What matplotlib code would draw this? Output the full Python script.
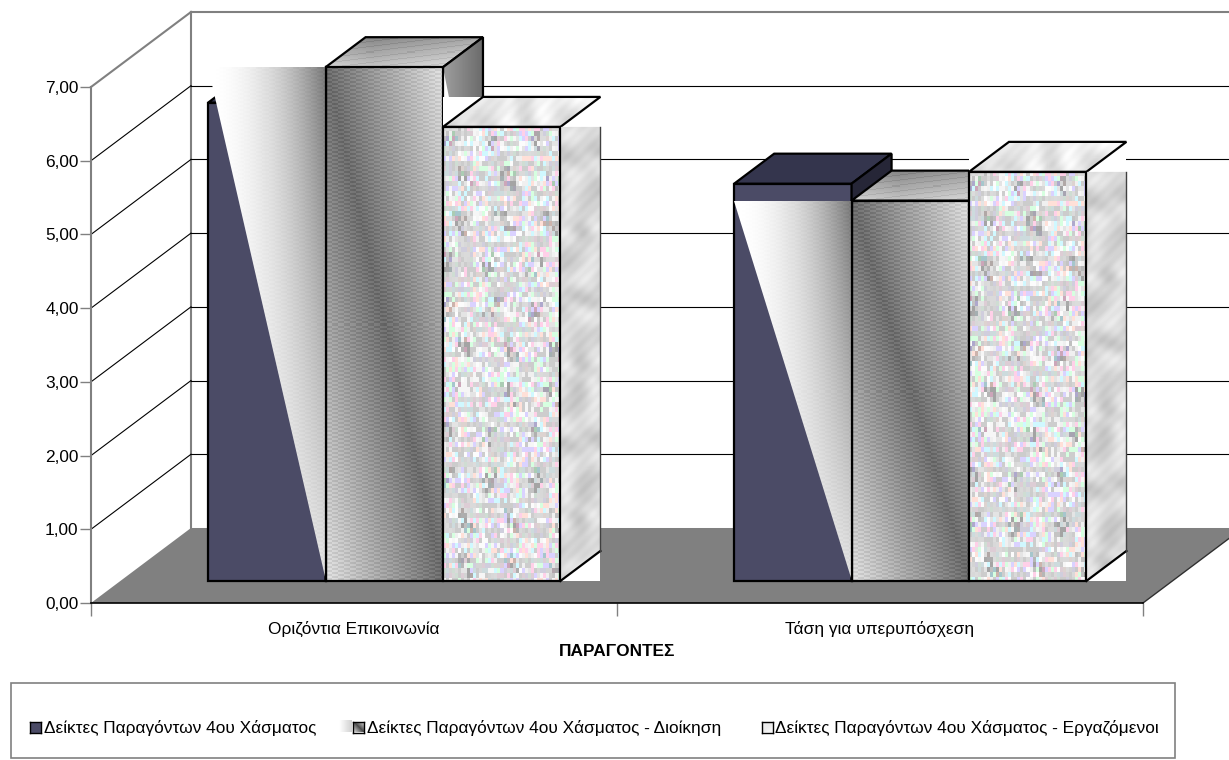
import numpy as np
import matplotlib
matplotlib.use('Agg')
import matplotlib.pyplot as plt
from matplotlib.patches import Polygon, Rectangle
from matplotlib.ticker import FuncFormatter

plt.rcParams['font.family'] = ['Liberation Sans', 'DejaVu Sans']

# ---------------------------- Daten ----------------------------
categories = ['Οριζόντια Επικοινωνία', 'Τάση για υπερυπόσχεση']
series_names = ['Δείκτες Παραγόντων 4ου Χάσματος',
                'Δείκτες Παραγόντων 4ου Χάσματος - Διοίκηση',
                'Δείκτες Παραγόντων 4ου Χάσματος - Εργαζόμενοι']
total = [6.49, 5.39]
management = [6.97, 5.16]
employees = [6.16, 5.55]
y_ticks = [0, 1, 2, 3, 4, 5, 6, 7]

# ------------------------- 3D-Geometrie -------------------------
W, H = 1229, 760
PX_X = 526.0     # Pixel pro Kategorie
PX_Y = 73.7      # Pixel pro Werteinheit
FLOOR_DX = 100 / PX_X
FLOOR_DY = 75 / PX_Y
D0, D1 = 22 / 75, 52 / 75     # Tiefe der Balken (Anteil der Bodentiefe)
BAR_W = 117.4 / PX_X
BAR_START = 0.167


def proj(x, y, d=0.0):
    return x + d * FLOOR_DX, y + d * FLOOR_DY


# ------------------------- Texturen -------------------------
def hash2(i, j, s=0.0):
    v = np.sin(i * 12.9898 + j * 78.233 + s) * 43758.5453
    return v - np.floor(v)


def oblique_gray(w, h, lo=0.42, hi=0.86, pattern=True):
    # dunkles Band laeuft diagonal von oben links nach unten rechts
    jj, ii = np.meshgrid(np.linspace(0, 1, w), np.linspace(0, 1, h))
    g = lo + (hi - lo) * np.abs(jj - ii)
    if pattern:
        r, c = np.indices((h, w))
        g = g + 0.07 * (((r + (c // 6) * 2) % 4) < 2) - 0.035
    return np.clip(g, 0, 1)


def fade_gray(w, h):
    # weiss links, grau rechts, nach unten heller
    jj, ii = np.meshgrid(np.linspace(0, 1, w), np.linspace(0, 1, h))
    g = 1.0 - 0.52 * jj ** 2.0 * (1 - 0.8 * ii)
    r, c = np.indices((h, w))
    g = g - 0.025 * (((r + (c // 6) * 2) % 4) < 2) * jj
    return np.clip(g, 0, 1)


def speckle(w, h):
    pal = np.array([[240, 240, 240], [205, 205, 205], [252, 252, 252], [255, 208, 232],
                    [214, 255, 224], [208, 248, 255], [218, 210, 255], [255, 224, 216],
                    [246, 246, 246], [205, 205, 205], [228, 228, 228]]) / 255.0
    ch, cw = h // 5 + 1, w // 3 + 1
    jj, ii = np.meshgrid(np.arange(cw), np.arange(ch))
    idx = (hash2(ii * 1.0, jj * 1.0) * len(pal)).astype(int)
    img = pal[idx % len(pal)]
    # waagerechte graue Stuecke
    runs = hash2(ii * 1.0, (jj // 5) * 1.0, 2.3) > 0.72
    img[runs] = img[runs] * 0.35 + 0.65 * np.array([0.8, 0.8, 0.8])
    # grosse dunklere Wolken
    cloud = np.sin(ii * 0.37 + 0.9) * np.sin(jj * 0.43 + 2.0 * np.sin(ii * 0.19))
    pick = (cloud > 0.55) & (hash2(ii * 1.0, jj * 1.0, 5.1) > 0.55)
    img[pick] = img[pick] * 0.8
    return np.repeat(np.repeat(img, 5, axis=0), 3, axis=1)[:h, :w]


def marble(w, h, base=0.88):
    jj, ii = np.meshgrid(np.arange(w, dtype=float), np.arange(h, dtype=float))
    s = (np.sin((jj + ii * 0.8) * 0.11 + 2.0 * np.sin(ii * 0.043 - jj * 0.05))
         + 0.6 * np.sin((jj * 0.7 - ii * 0.5) * 0.21 + 1.5 * np.sin(ii * 0.09))
         + 0.3 * np.sin((jj + ii) * 0.47))
    return np.clip(base + 0.045 * s, 0, 1)


# ------------------------- Figur -------------------------
fig = plt.figure(figsize=(W / 100, H / 100), dpi=100, facecolor='white')
ax = fig.add_axes([91 / W, (H - 603) / H, 1052 / W, 516 / H])
ax.patch.set_visible(False)


def paste(img, x0, x1, y0, y1, clip=None, z=2, cmap='gray'):
    im = ax.imshow(img, extent=(x0, x1, y0, y1), origin='upper', aspect='auto', cmap=cmap,
                   vmin=0, vmax=1, interpolation='nearest', zorder=z)
    # Bilder ragen ueber die Achsen hinaus, also auf die ganze Figur begrenzen
    im.set_clip_box(fig.bbox)
    if clip is not None:
        im.set_clip_path(Polygon(clip, closed=True, transform=ax.transData))
        im.set_clip_box(fig.bbox)
    else:
        im.set_clip_path(None)
    return im


def poly(pts, fc='none', ec='none', lw=0, z=2):
    p = Polygon(pts, closed=True, facecolor=fc, edgecolor=ec, linewidth=lw, zorder=z,
                clip_on=False, joinstyle='miter')
    ax.add_patch(p)
    return p


# Boden und Waende
poly([proj(0, 0), proj(2, 0), proj(2, 0, 1), proj(0, 0, 1)], fc='#808080', z=1)
ax.plot(*zip(proj(2, 0), proj(2, 0, 1)), color='#303030', lw=1, clip_on=False, zorder=1.1)
ax.plot(*zip(proj(0, 0, 1), proj(0, 7, 1)), color='#808080', lw=1.5, clip_on=False, zorder=1)
ax.plot(*zip(proj(0, 7), proj(0, 7, 1)), color='#808080', lw=1.5, clip_on=False, zorder=1)
ax.plot(*zip(proj(0, 7, 1), proj(2, 7, 1)), color='#808080', lw=1.5, clip_on=False, zorder=1)
for t in y_ticks[1:-1]:
    ax.plot(*zip(proj(0, t), proj(0, t, 1)), color='black', lw=0.8, clip_on=False, zorder=1)
    ax.plot(*zip(proj(0, t, 1), proj(2, t, 1)), color='black', lw=0.8, clip_on=False, zorder=1)

base = D0 * FLOOR_DY
z = 3.0
LW = 1.6

for k in range(len(categories)):
    x_a = k + BAR_START + D0 * FLOOR_DX
    x_b = x_a + BAR_W
    x_c = x_b + BAR_W
    x_d = x_c + BAR_W
    dd = D1 - D0
    ddx, ddy = dd * FLOOR_DX, dd * FLOOR_DY
    v1, v2, v3 = total[k] + base, management[k] + base, employees[k] + base

    # Reihe 1: dunkelblau
    poly([(x_a, base), (x_b, base), (x_b, v1), (x_a, v1)], fc='#4b4b66', ec='black', lw=LW, z=z)
    poly([(x_a, v1), (x_b, v1), (x_b + ddx, v1 + ddy), (x_a + ddx, v1 + ddy)], fc='#34354d', ec='black', lw=LW, z=z + 0.1)
    poly([(x_b, v1), (x_b + ddx, v1 + ddy), (x_b + ddx, base + ddy), (x_b, base)], fc='#262637', ec='black', lw=LW, z=z + 0.2)

    # Reihe 2: Grauverlauf
    top_pts = [(x_b, v2), (x_c, v2), (x_c + ddx, v2 + ddy), (x_b + ddx, v2 + ddy)]
    jj, ii = np.meshgrid(np.linspace(0, 1, 157), np.linspace(0, 1, 30))
    g_top = 0.52 + 0.25 * ii + 0.18 * np.abs(jj - 0.3) - 0.06 * (((np.arange(30)[:, None] + np.arange(157)[None, :] // 8) % 5) == 0)
    paste(np.clip(g_top, 0, 1), x_b, x_c + ddx, v2, v2 + ddy, clip=top_pts, z=z + 0.3)
    poly(top_pts, ec='black', lw=LW, z=z + 0.31)
    side_pts = [(x_c, v2), (x_c + ddx, v2 + ddy), (x_c + ddx, base + ddy), (x_c, base)]
    paste(np.tile(np.linspace(0.62, 0.42, 40), (60, 1)), x_c, x_c + ddx, v2 - 30 / PX_Y, v2 + ddy, clip=side_pts, z=z + 0.4)
    poly(side_pts, ec='black', lw=LW, z=z + 0.41)
    # heller Keil auf der Seitenflaeche
    poly([(x_c, v2), (x_c + 0.15 * ddx, v2 - 30 / PX_Y), (x_c, v2 - 30 / PX_Y)], fc='white', z=z + 0.42)
    h_px = int((v2 - base) * PX_Y)
    paste(oblique_gray(117, h_px), x_b, x_c, base, v2, z=z + 0.5)
    poly([(x_b, base), (x_c, base), (x_c, v2), (x_b, v2)], ec='black', lw=LW, z=z + 0.51)

    # Dreieck ueber Reihe 1, gleiche Hoehe wie Reihe 2
    tri = [(x_a, v2), (x_b, v2), (x_b, base)]
    paste(fade_gray(117, h_px), x_a, x_b, base, v2, clip=tri, z=z + 0.6)
    ax.plot([x_b, x_b], [base, v2], color='black', lw=LW, zorder=z + 0.61, clip_on=False)

    # Reihe 3: Marmor / bunte Textur mit weissem Hintergrund
    poly([(x_c, v3), (x_d + ddx, v3), (x_d + ddx, v3 + ddy), (x_c, v3 + ddy)], fc='white', z=z + 0.7)
    top3 = [(x_c, v3), (x_d, v3), (x_d + ddx, v3 + ddy), (x_c + ddx, v3 + ddy)]
    paste(marble(157, 30, base=0.91), x_c, x_d + ddx, v3, v3 + ddy, clip=top3, z=z + 0.71)
    poly(top3, ec='black', lw=LW, z=z + 0.72)
    poly([(x_d, base), (x_d + ddx, base), (x_d + ddx, v3), (x_d, v3)], fc='white', z=z + 0.73)
    h3 = int((v3 - base) * PX_Y)
    side3 = [(x_d, v3), (x_d + ddx, v3), (x_d + ddx, base + ddy), (x_d, base)]
    paste(marble(40, h3, base=0.84), x_d, x_d + ddx, base, v3, clip=side3, z=z + 0.74)
    ax.plot([x_d, x_d + ddx], [base, base + ddy], color='black', lw=LW, zorder=z + 0.75, clip_on=False)
    ax.plot([x_d + ddx, x_d + ddx], [base + ddy, v3], color='#404040', lw=1, zorder=z + 0.75, clip_on=False)
    paste(speckle(117, h3), x_c, x_d, base, v3, z=z + 0.8)
    poly([(x_c, base), (x_d, base), (x_d, v3), (x_c, v3)], ec='black', lw=LW, z=z + 0.81)

# ------------------------- Achsen -------------------------
ax.set_xlim(0, 2)
ax.set_ylim(0, 7)
ax.spines['top'].set_visible(False)
ax.spines['right'].set_visible(False)
ax.spines['left'].set_color('#808080')
ax.spines['left'].set_linewidth(1.5)
ax.spines['bottom'].set_color('black')
ax.spines['bottom'].set_linewidth(1.2)
ax.spines['bottom'].set_zorder(2.5)
ax.set_yticks(y_ticks)
ax.yaxis.set_major_formatter(FuncFormatter(lambda v, p: f'{v:.2f}'.replace('.', ',')))
ax.tick_params(axis='y', length=8, width=1, color='#808080', labelsize=12.4, pad=1)
ax.set_xticks([0, 1, 2], minor=True)
ax.set_xticks([0.5, 1.5])
ax.set_xticklabels(categories, fontsize=12.4)
ax.tick_params(axis='x', which='major', length=0, pad=13)
ax.tick_params(axis='x', which='minor', length=9, width=1, color='#808080')
fig.text(617 / W, 1 - 652 / H, 'ΠΑΡΑΓΟΝΤΕΣ', ha='center', va='center', fontsize=12.4, fontweight='bold')

# ------------------------- Legende -------------------------
fig.add_artist(Rectangle((11 / W, 1 - 758 / H), 1164 / W, 75 / H, transform=fig.transFigure,
                         facecolor='white', edgecolor='#808080', linewidth=1.2, zorder=-1))


def swatch(x, y, size, img=None, fc=None):
    a = fig.add_axes([x / W, 1 - (y + size / 2) / H, size / W, size / H], zorder=5)
    a.set_xticks([])
    a.set_yticks([])
    if img is not None:
        a.imshow(img, cmap='gray', vmin=0, vmax=1, aspect='auto', interpolation='bilinear')
    if fc is not None:
        a.set_facecolor(fc)
    for s in a.spines.values():
        s.set_linewidth(1.0)
    return a


legend_y = 727
swatch(30, legend_y, 11, fc='#4b4b66')
fade = swatch(339, legend_y - 1, 13, img=np.tile(np.linspace(1, 0.82, 20), (20, 1)))
for s in fade.spines.values():
    s.set_visible(False)
swatch(353, legend_y, 11, img=oblique_gray(11, 11, lo=0.3, hi=0.85, pattern=False))
swatch(762, legend_y, 11, img=marble(11, 11, base=0.88))
for x, name in zip([44, 367, 775], series_names):
    fig.text(x / W, 1 - (legend_y + 1) / H, name, ha='left', va='center', fontsize=12.4)

fig.savefig('out.png', dpi=100, facecolor='white')
